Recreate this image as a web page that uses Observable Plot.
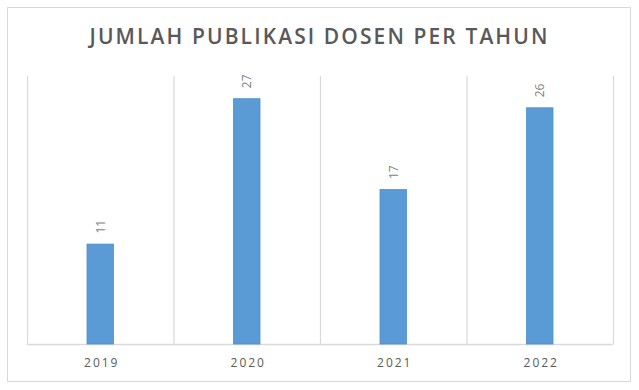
<!DOCTYPE html>
<html>
<head>
<meta charset="utf-8">
<script src="https://cdn.jsdelivr.net/npm/d3@7"></script>
<script src="https://cdn.jsdelivr.net/npm/@observablehq/plot@0.6"></script>
<style>
  html, body { margin: 0; padding: 0; background: #fff; }
  #wrap { position: relative; width: 639px; height: 390px; overflow: hidden; }
  #frame { position: absolute; left: 7px; top: 7px; width: 622px; height: 373px; border: 1px solid #d9d9d9; box-sizing: content-box; }
  #title { position: absolute; left: 0; width: 639px; top: 22px; text-align: center;
    font-family: "Open Sans", sans-serif; font-weight: 600; font-size: 21px; letter-spacing: 2.1px; color: #595959; }
  #chart { position: absolute; left: 0; top: 0; }
  .yr text { letter-spacing: 2px; }
</style>
</head>
<body>
<div id="wrap">
  <div id="frame"></div>
  <div id="title">JUMLAH PUBLIKASI DOSEN PER TAHUN</div>
  <div id="chart"></div>
</div>
<script>
const years = ["2019", "2020", "2021", "2022"];
const counts = [11, 27, 17, 26];

const data = years.map((y, i) => ({year: y, i, value: counts[i]}));
const bounds = d3.range(years.length + 1);

const chart = Plot.plot({
  width: 639,
  height: 390,
  marginLeft: 27,
  marginRight: 26,
  marginTop: 76,
  marginBottom: 46,
  x: {domain: [0, years.length], axis: null},
  y: {domain: [0, 29.5], axis: null},
  style: {background: "transparent", overflow: "visible"},
  marks: [
    Plot.ruleX(bounds, {x: d => d, stroke: "#d9d9d9", strokeWidth: 1.2}),
    Plot.ruleY([0], {stroke: "#d9d9d9", strokeWidth: 1.5}),
    Plot.rectY(data, {x1: d => d.i, x2: d => d.i + 1, y: "value", insetLeft: 60, insetRight: 60,
      fill: "#5b9bd5", stroke: "#4d8fcc", strokeWidth: 0.8}),
    Plot.text(data, {x: d => d.i + 0.5, y: "value", text: d => String(d.value), rotate: -90,
      textAnchor: "start", dy: -11, fill: "#7f7f7f", fontSize: 12, fontFamily: "Open Sans, sans-serif"}),
    Plot.text(data, {x: d => d.i + 0.5, y: 0, text: "year", dy: 19, dx: 1, fill: "#595959", fontSize: 12,
      fontFamily: "Open Sans, sans-serif", className: "yr"})
  ]
});
document.getElementById("chart").appendChild(chart);
</script>
</body>
</html>
